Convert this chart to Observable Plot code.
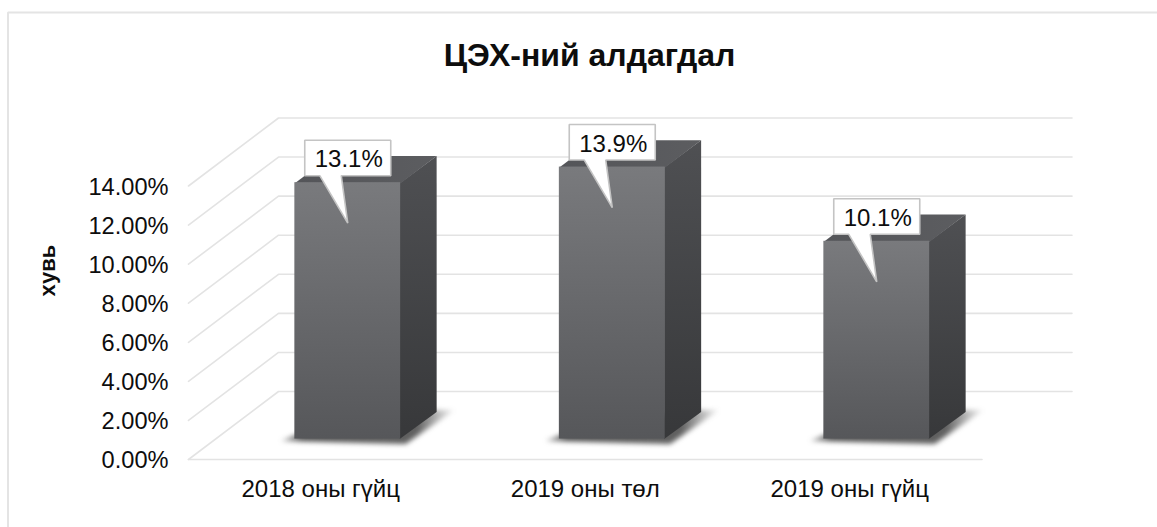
<!DOCTYPE html>
<html><head><meta charset="utf-8">
<script src="https://cdn.jsdelivr.net/npm/d3@7"></script>
<script src="https://cdn.jsdelivr.net/npm/@observablehq/plot@0.6"></script>
<style>html,body{margin:0;padding:0;background:#fff}svg{display:block}</style>
</head><body><div id="chart"></div>
<script>
const categories = ["2018 оны гүйц", "2019 оны төл", "2019 оны гүйц"];
const values = [13.1, 13.9, 10.1];
const labels = ["13.1%", "13.9%", "10.1%"];
const yTicks = [0, 2, 4, 6, 8, 10, 12, 14];

const W = 1157, H = 527;
const x0px = 188, x1px = 981.5, y0px = 459, y14px = 185.5;
const ux = (x1px - x0px) / 3;            // px per category
const uy = (y0px - y14px) / 14;          // px per percentage point
const depthX = 90 / ux, depthY = 68 / uy; // wall depth in data units
const pX = p => p / ux, pY = p => p / uy;
// Oblique projection: position along category axis, value, depth 0..1
const P = (c, v, d) => ({x: c + d * depthX, y: v + d * depthY});
const F = "Liberation Sans, Arial, sans-serif";
const INK = "#0d0d0d";

const grid = [];
yTicks.forEach(v => {
  grid.push({k: v, ...P(0, v, 0)}, {k: v, ...P(0, v, 1)}, {k: v, ...P(3, v, 1)});
});
const floor = [P(0, 0, 0), P(3, 0, 0)];
const frame = [
  {x: pX(7.5 - x0px), y: pY(y0px - H)},
  {x: pX(7.5 - x0px), y: pY(y0px - 12)},
  {x: pX(W - x0px), y: pY(y0px - 12)}
];

const bw = 0.4, dA = 0.3, dB = 0.7;
const front = [], side = [], top_ = [], shadow = [], callout = [];
values.forEach((v, i) => {
  const a = i + 0.5 - bw / 2, b = i + 0.5 + bw / 2;
  const fa0 = P(a, 0, dA), fb0 = P(b, 0, dA), fa1 = P(a, v, dA), fb1 = P(b, v, dA);
  const ba1 = P(a, v, dB), bb1 = P(b, v, dB), bb0 = P(b, 0, dB);
  front.push({k: i, x1: fa0.x, x2: fb0.x, y1: fa0.y, y2: fa1.y});
  [{x: fb0.x - pX(1), y: fb0.y}, bb0, bb1, {x: fb1.x - pX(1), y: fb1.y}].forEach(p => side.push({k: i, ...p}));
  [fa1, fb1, bb1, ba1].forEach(p => top_.push({k: i, ...p}));
  [
    {x: fa0.x - pX(14), y: fa0.y - pY(2)},
    {x: fb0.x + pX(5), y: fb0.y - pY(5)},
    {x: bb0.x + pX(18), y: bb0.y + pY(2)},
    {x: bb0.x - pX(4), y: bb0.y + pY(2)},
    {x: fa0.x, y: fa0.y + pY(4)}
  ].forEach(p => shadow.push({k: i, ...p}));
  const c = (fa0.x + fb0.x) / 2, t = fa1.y;
  [[-43, 43], [43, 43], [43, 7.5], [-6.5, 7.5], [0, -40], [-28, 7.5], [-43, 7.5]]
    .forEach(([dx, dy]) => callout.push({k: i, x: c + pX(dx), y: t + pY(dy)}));
});
const calloutText = labels.map((s, i) => {
  const p = P(i + 0.5, values[i], dA);
  return {s, x: p.x + pX(1), y: p.y + pY(23.5)};
});

const defs = () => {
  const ns = "http://www.w3.org/2000/svg";
  const d = document.createElementNS(ns, "defs");
  const mk = (id, stops, hz) => {
    const g = document.createElementNS(ns, "linearGradient");
    g.setAttribute("id", id);
    g.setAttribute("x1", "0"); g.setAttribute("y1", "0");
    g.setAttribute("x2", hz ? "1" : "0"); g.setAttribute("y2", hz ? "0" : "1");
    stops.forEach(([o, col, op]) => {
      const s = document.createElementNS(ns, "stop");
      s.setAttribute("offset", o); s.setAttribute("stop-color", col);
      if (op != null) s.setAttribute("stop-opacity", op);
      g.appendChild(s);
    });
    d.appendChild(g);
  };
  mk("gFront", [[0, "#797a7d"], [1, "#56575a"]]);
  mk("gSide", [[0, "#4f5053"], [1, "#37383a"]]);
  mk("gTop", [[0, "#545559"], [1, "#5c5d60"]], true);
  mk("gShadow", [[0, "#555", 0.35], [0.12, "#444", 0.9], [0.78, "#444", 0.85], [1, "#555", 0.05]], true);
  return d;
};

const chart = Plot.plot({
  width: W, height: H,
  marginTop: 0, marginRight: 0, marginBottom: 0, marginLeft: 0,
  x: {type: "linear", domain: [(0 - x0px) / ux, (W - x0px) / ux], range: [0, W], axis: null},
  y: {type: "linear", domain: [(y0px - H) / uy, y0px / uy], range: [H, 0], axis: null},
  style: {background: "#fff", fontFamily: F, overflow: "visible"},
  marks: [
    defs,
    Plot.line(frame, {x: "x", y: "y", stroke: "#e4e4e4", strokeWidth: 2, strokeLinejoin: "miter"}),
    Plot.line(grid, {x: "x", y: "y", z: "k", stroke: "#e3e3e3", strokeWidth: 1.6, strokeLinejoin: "miter"}),
    Plot.line(floor, {x: "x", y: "y", stroke: "#e3e3e3", strokeWidth: 1.6}),
    Plot.line(shadow, {x: "x", y: "y", z: "k", curve: "linear-closed", fill: "url(#gShadow)", stroke: "none", imageFilter: "blur(2.5px)"}),
    Plot.line(side, {x: "x", y: "y", z: "k", curve: "linear-closed", fill: "url(#gSide)", stroke: "none"}),
    Plot.line(top_, {x: "x", y: "y", z: "k", curve: "linear-closed", fill: "url(#gTop)", stroke: "none"}),
    Plot.rect(front, {x1: "x1", x2: "x2", y1: "y1", y2: d => d.y2 + pY(0.5), fill: "url(#gFront)"}),
    Plot.line(callout, {x: "x", y: "y", z: "k", curve: "linear-closed", fill: "#fff", stroke: "#c4c4c4", strokeWidth: 1.6, strokeLinejoin: "miter"}),
    Plot.text(calloutText, {x: "x", y: "y", text: "s", fontSize: 24, fill: INK, textAnchor: "middle", lineAnchor: "middle"}),
    Plot.text(yTicks, {x: () => pX(168 - x0px), y: d => d - pY(1), text: d => d.toFixed(2) + "%", fontSize: 23.6, fill: INK, textAnchor: "end", lineAnchor: "middle"}),
    Plot.text(categories, {x: (d, i) => i + 0.5, y: () => pY(y0px - 489), text: d => d, fontSize: 24, fill: INK, textAnchor: "middle", lineAnchor: "middle"}),
    Plot.text(["ЦЭХ-ний алдагдал"], {x: () => pX(589 - x0px), y: () => pY(y0px - 55), text: d => d, fontSize: 32, fontWeight: "bold", fill: INK, textAnchor: "middle", lineAnchor: "middle"}),
    Plot.text(["хувь"], {x: () => pX(47 - x0px), y: () => pY(y0px - 270), text: d => d, fontSize: 22, fontWeight: "bold", fill: INK, rotate: -90, textAnchor: "middle", lineAnchor: "middle"})
  ]
});
document.getElementById("chart").appendChild(chart);
</script></body></html>
